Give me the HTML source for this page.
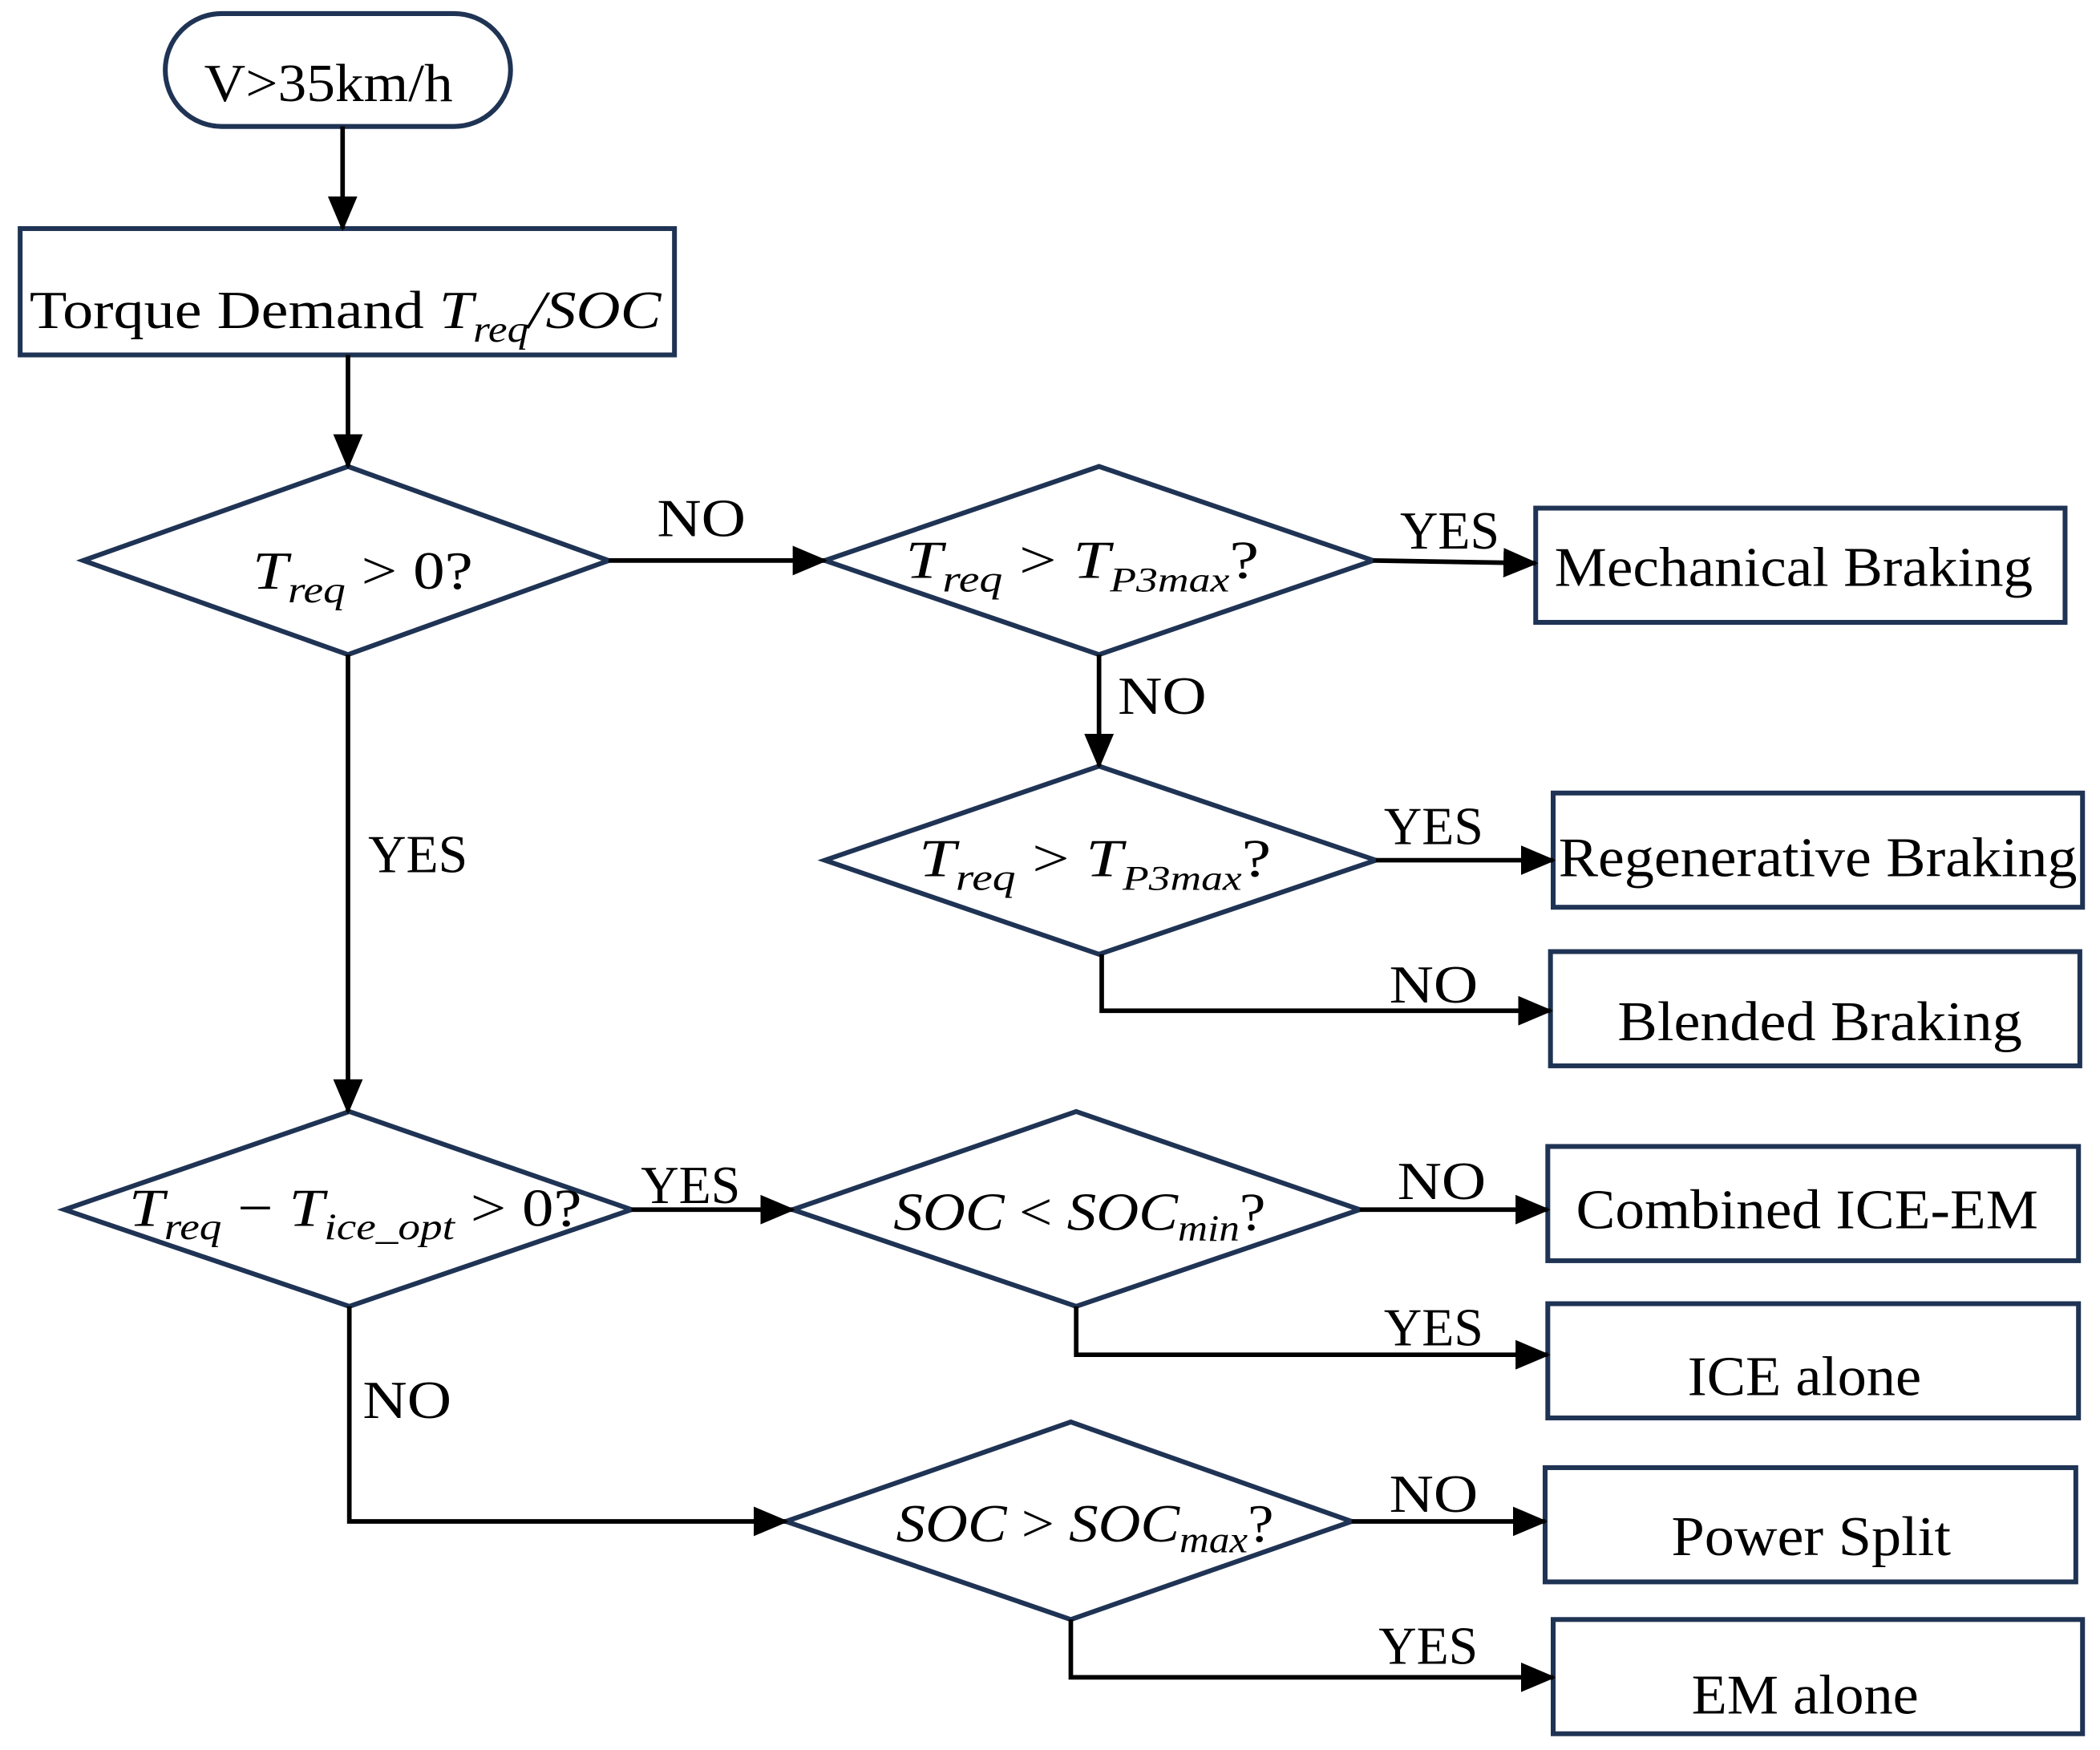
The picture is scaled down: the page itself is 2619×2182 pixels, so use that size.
<!DOCTYPE html>
<html><head><meta charset="utf-8"><style>
html,body{margin:0;padding:0;background:#fff;}
svg{display:block;}
text{font-family:"Liberation Serif",serif;fill:#000;}
.m{font-style:italic;}
</style></head><body>
<svg width="2619" height="2182" viewBox="0 0 1563 1302" xmlns="http://www.w3.org/2000/svg">
<defs>
<marker id="a" markerWidth="26" markerHeight="22" refX="24" refY="11" orient="auto" markerUnits="userSpaceOnUse">
<path d="M0,0 L26,11 L0,22 Z" fill="#000"/></marker>
</defs>
<g fill="none" stroke="#1f3354" stroke-width="3.6">
<rect x="123" y="10" width="257" height="84" rx="42"/>
<rect x="15" y="170" width="487" height="94"/>
<polygon points="62,417 259,347 453,417 259,487"/>
<polygon points="614,417 818,347 1022,417 818,487"/>
<polygon points="614,640 818,570 1024,640 818,710"/>
<polygon points="48,900 260,827 470,900 260,972"/>
<polygon points="590,900 801,827 1012,900 801,972"/>
<polygon points="585,1132 797,1058 1006,1132 797,1205"/>
<rect x="1143" y="378" width="394" height="85"/>
<rect x="1156" y="590" width="394" height="85"/>
<rect x="1154" y="708" width="394" height="85"/>
<rect x="1152" y="853" width="395" height="85"/>
<rect x="1152" y="970" width="395" height="85"/>
<rect x="1150" y="1092" width="395" height="85"/>
<rect x="1156" y="1205" width="394" height="85"/>
</g>
<g fill="none" stroke="#000" stroke-width="3.4">
<path d="M255,94 L255,170" marker-end="url(#a)"/>
<path d="M259,264 L259,347" marker-end="url(#a)"/>
<path d="M453,417 L614,417" marker-end="url(#a)"/>
<path d="M1022,417 L1143,419" marker-end="url(#a)"/>
<path d="M818,487 L818,570" marker-end="url(#a)"/>
<path d="M1024,640 L1156,640" marker-end="url(#a)"/>
<path d="M820,710 L820,752 L1154,752" marker-end="url(#a)"/>
<path d="M259,487 L259,827" marker-end="url(#a)"/>
<path d="M470,900 L590,900" marker-end="url(#a)"/>
<path d="M1012,900 L1152,900" marker-end="url(#a)"/>
<path d="M801,972 L801,1008 L1152,1008" marker-end="url(#a)"/>
<path d="M260,972 L260,1132 L585,1132" marker-end="url(#a)"/>
<path d="M1006,1132 L1150,1132" marker-end="url(#a)"/>
<path d="M797,1205 L797,1248 L1156,1248" marker-end="url(#a)"/>
</g>
<g font-size="40" lengthAdjust="spacingAndGlyphs">
<text x="152" y="75" textLength="185" lengthAdjust="spacingAndGlyphs">V&gt;35km/h</text>
<text x="22" y="244" textLength="470" lengthAdjust="spacingAndGlyphs">Torque Demand <tspan class="m">T<tspan font-size="28" dy="10">req</tspan><tspan dy="-10">/SOC</tspan></tspan></text>
<text x="188" y="438" textLength="164" lengthAdjust="spacingAndGlyphs" class="m">T<tspan font-size="28" dy="10">req</tspan><tspan dy="-10" font-style="normal"> &gt; 0?</tspan></text>
<text x="674" y="430" textLength="263" lengthAdjust="spacingAndGlyphs" class="m">T<tspan font-size="28" dy="10">req</tspan><tspan dy="-10" font-style="normal"> &gt; </tspan>T<tspan font-size="26" dy="10">P3max</tspan><tspan dy="-10" font-style="normal">?</tspan></text>
<text x="684" y="652" textLength="262" lengthAdjust="spacingAndGlyphs" class="m">T<tspan font-size="28" dy="10">req</tspan><tspan dy="-10" font-style="normal"> &gt; </tspan>T<tspan font-size="26" dy="10">P3max</tspan><tspan dy="-10" font-style="normal">?</tspan></text>
<text x="96" y="912" textLength="337" lengthAdjust="spacingAndGlyphs" class="m">T<tspan font-size="28" dy="10">req</tspan><tspan dy="-10" font-style="normal"> − </tspan>T<tspan font-size="28" dy="10">ice_opt</tspan><tspan dy="-10" font-style="normal"> &gt; 0?</tspan></text>
<text x="665" y="915" textLength="277" lengthAdjust="spacingAndGlyphs" class="m">SOC<tspan font-style="normal"> &lt; </tspan>SOC<tspan font-size="28" dy="8">min</tspan><tspan dy="-8" font-style="normal">?</tspan></text>
<text x="667" y="1147" textLength="281" lengthAdjust="spacingAndGlyphs" class="m">SOC<tspan font-style="normal"> &gt; </tspan>SOC<tspan font-size="28" dy="8">max</tspan><tspan dy="-8" font-style="normal">?</tspan></text>
</g>
<g font-size="40">
<text x="489" y="399" textLength="66" lengthAdjust="spacingAndGlyphs">NO</text>
<text x="1042" y="408" textLength="74" lengthAdjust="spacingAndGlyphs">YES</text>
<text x="832" y="531" textLength="66" lengthAdjust="spacingAndGlyphs">NO</text>
<text x="1030" y="628" textLength="74" lengthAdjust="spacingAndGlyphs">YES</text>
<text x="1034" y="746" textLength="66" lengthAdjust="spacingAndGlyphs">NO</text>
<text x="274" y="649" textLength="74" lengthAdjust="spacingAndGlyphs">YES</text>
<text x="477" y="895" textLength="74" lengthAdjust="spacingAndGlyphs">YES</text>
<text x="1040" y="892" textLength="66" lengthAdjust="spacingAndGlyphs">NO</text>
<text x="1030" y="1001" textLength="74" lengthAdjust="spacingAndGlyphs">YES</text>
<text x="270" y="1055" textLength="66" lengthAdjust="spacingAndGlyphs">NO</text>
<text x="1034" y="1125" textLength="66" lengthAdjust="spacingAndGlyphs">NO</text>
<text x="1026" y="1238" textLength="74" lengthAdjust="spacingAndGlyphs">YES</text>
</g>
<g font-size="42">
<text x="1157" y="436" textLength="356" lengthAdjust="spacingAndGlyphs">Mechanical Braking</text>
<text x="1160" y="652" textLength="386" lengthAdjust="spacingAndGlyphs">Regenerative Braking</text>
<text x="1204" y="774" textLength="301" lengthAdjust="spacingAndGlyphs">Blended Braking</text>
<text x="1173" y="914" textLength="344" lengthAdjust="spacingAndGlyphs">Combined ICE-EM</text>
<text x="1256" y="1038" textLength="174" lengthAdjust="spacingAndGlyphs">ICE alone</text>
<text x="1244" y="1157" textLength="208" lengthAdjust="spacingAndGlyphs">Power Split</text>
<text x="1259" y="1275" textLength="169" lengthAdjust="spacingAndGlyphs">EM alone</text>
</g>
</svg>
</body></html>
